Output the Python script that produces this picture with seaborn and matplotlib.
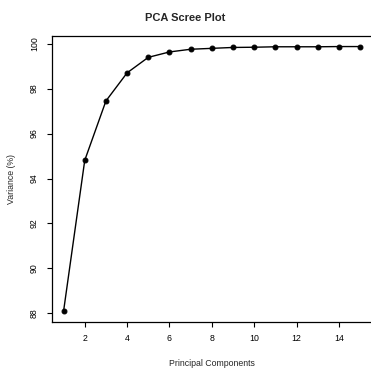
import numpy as np
import pandas as pd
import matplotlib
matplotlib.use("Agg")
import matplotlib.pyplot as plt
import seaborn as sns

# cumulative variance explained
components = list(range(1, 16))
variance = [88.10, 94.81, 97.45, 98.70, 99.39, 99.63, 99.75, 99.79,
            99.83, 99.84, 99.86, 99.86, 99.86, 99.87, 99.87]
x_ticks = [2, 4, 6, 8, 10, 12, 14]
y_ticks = [88, 90, 92, 94, 96, 98, 100]

df = pd.DataFrame({"PC": components, "Variance": variance})

sns.set_style("ticks")
plt.rcParams["font.family"] = ["Liberation Sans", "DejaVu Sans"]

fig = plt.figure(figsize=(3.71, 3.68), dpi=100)
ax = fig.add_axes([0.1394, 0.1258, 0.863, 0.7764])

sns.lineplot(data=df, x="PC", y="Variance", ax=ax, color="black",
             linewidth=1.0, marker="o", markersize=3.5,
             markeredgecolor="black", markerfacecolor="black")

ax.set_xlim(0.44, 15.56)
ax.set_ylim(87.63, 100.34)
ax.set_xticks(x_ticks)
ax.set_yticks(y_ticks)
ax.set_yticklabels([str(t) for t in y_ticks], rotation=90, va="center")
ax.tick_params(direction="out", length=3.6, width=0.8, labelsize=6.3,
               colors="black", pad=5.5)
for s in ax.spines.values():
    s.set_visible(True)
    s.set_linewidth(0.9)
    s.set_color("black")

ax.set_xlabel("Principal Components", fontsize=6.3, labelpad=11)
ax.set_ylabel("Variance (%)", fontsize=6.3, labelpad=10)
fig.suptitle("PCA Scree Plot", fontsize=8, fontweight="bold", y=0.965)

fig.savefig("out.png", dpi=100)
